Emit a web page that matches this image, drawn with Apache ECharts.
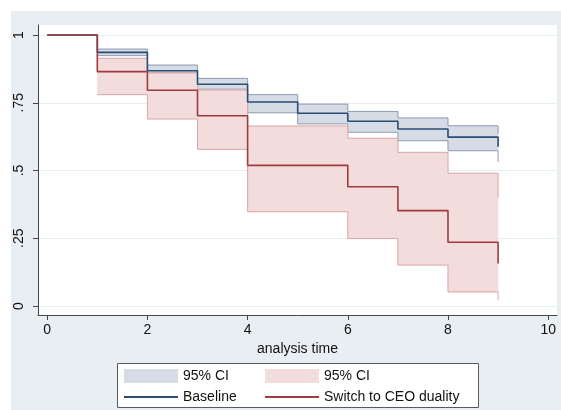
<!DOCTYPE html>
<html>
<head>
<meta charset="utf-8">
<script src="https://cdn.jsdelivr.net/npm/echarts@6/dist/echarts.min.js"></script>
<style>
  html, body { margin: 0; padding: 0; background: #ffffff; }
  #chart { width: 561px; height: 410px; }
</style>
</head>
<body>
<div id="chart"></div>
<script>
// ---- data ----
const times      = [0, 1, 2, 3, 4, 5, 6, 7, 8, 9];
const baseline   = [1, 0.936, 0.868, 0.818, 0.753, 0.711, 0.682, 0.653, 0.623, 0.588];
const baseLower  = [null, 0.924, 0.861, 0.800, 0.713, 0.672, 0.641, 0.610, 0.573, 0.531];
const baseUpper  = [null, 0.948, 0.889, 0.840, 0.780, 0.745, 0.718, 0.694, 0.665, 0.635];
const switchS    = [1, 0.865, 0.796, 0.702, 0.519, 0.519, 0.440, 0.352, 0.235, 0.157];
const switchLower= [null, 0.780, 0.690, 0.578, 0.348, 0.348, 0.249, 0.151, 0.052, 0.022];
const switchUpper= [null, 0.914, 0.860, 0.797, 0.664, 0.664, 0.619, 0.567, 0.490, 0.401];
const xTicks     = [0, 2, 4, 6, 8, 10];
const yTicks     = [0, 0.25, 0.5, 0.75, 1];
const yTickLabels= ['0', '.25', '.5', '.75', '1'];
const seriesNames= ['Baseline', 'Switch to CEO duality'];
const ciLabel    = '95% CI';
const xTitle     = 'analysis time';

// ---- helpers ----
function pairs(xs, ys) {
  const out = [];
  for (let i = 0; i < xs.length; i++) if (ys[i] !== null) out.push([xs[i], ys[i]]);
  return out;
}
// band intervals: [t_start, t_end, lower, upper]
function intervals(xs, lo, hi) {
  const out = [];
  for (let i = 0; i < xs.length - 1; i++) if (lo[i] !== null) out.push([xs[i], xs[i + 1], lo[i], hi[i]]);
  return out;
}

const FONT = '"Liberation Sans", Arial, Helvetica, sans-serif';
const NAVY = '#2a4d75';
const MAROON = '#a13a40';
const BLUE_FILL = '#d6dbe5';
const BLUE_EDGE = '#8f9db2';
const PINK_FILL = '#f2dcdc';
const PINK_EDGE = '#dca6a8';

const chart = echarts.init(document.getElementById('chart'), null, { renderer: 'canvas' });

function bandSeries(id, lo, hi, fill, edge, z) {
  return [
    {
      name: id, type: 'custom', z: z, silent: true,
      itemStyle: { color: fill },
      data: intervals(times, lo, hi),
      encode: { x: [0, 1], y: [2, 3] },
      renderItem: function (params, api) {
        const p0 = api.coord([api.value(0), api.value(3)]);
        const p1 = api.coord([api.value(1), api.value(2)]);
        return {
          type: 'rect',
          shape: { x: p0[0], y: p0[1], width: p1[0] - p0[0], height: p1[1] - p0[1] },
          style: { fill: fill, stroke: fill, lineWidth: 0.5 }
        };
      }
    },
    {
      name: id + 'lo', type: 'line', step: 'end', z: z,
      data: pairs(times, lo), symbol: 'none', silent: true,
      lineStyle: { color: edge, width: 1 }
    },
    {
      name: id + 'hi', type: 'line', step: 'end', z: z,
      data: pairs(times, hi), symbol: 'none', silent: true,
      lineStyle: { color: edge, width: 1 }
    }
  ];
}

const legendFormatter = function (name) {
  return (name === 'bCI' || name === 'sCI') ? ciLabel : name;
};

const option = {
  backgroundColor: '#ffffff',
  animation: false,
  graphic: [
    { type: 'rect', z: -10, silent: true, shape: { x: 11, y: 11, width: 550, height: 399 }, style: { fill: '#e8eef1' } },
    { type: 'rect', z: 1, silent: true, shape: { x: 117.5, y: 363.5, width: 361, height: 44 }, style: { fill: '#ffffff', stroke: '#5a5a5a', lineWidth: 1 } }
  ],
  grid: {
    left: 38, right: 4, top: 25, bottom: 95,
    show: true, backgroundColor: '#ffffff', borderWidth: 0
  },
  xAxis: {
    type: 'value', min: -0.184, max: 10.176,
    name: xTitle, nameLocation: 'middle', nameGap: 24,
    nameTextStyle: { fontFamily: FONT, fontSize: 14, color: '#111' },
    axisLine: { show: true, onZero: false, lineStyle: { color: '#444', width: 1 } },
    axisTick: { show: true, inside: false, length: 5, customValues: xTicks, lineStyle: { color: '#444' } },
    axisLabel: { customValues: xTicks, margin: 8, fontFamily: FONT, fontSize: 14, color: '#111' },
    splitLine: { show: false }
  },
  yAxis: {
    type: 'value', min: -0.0332, max: 1.0369,
    axisLine: { show: true, onZero: false, lineStyle: { color: '#444', width: 1 } },
    axisTick: { show: true, inside: false, length: 5, customValues: yTicks, lineStyle: { color: '#444' } },
    axisLabel: {
      customValues: yTicks, rotate: 90, margin: 12, fontFamily: FONT, fontSize: 14, color: '#111',
      formatter: function (v) { const i = yTicks.indexOf(v); return i >= 0 ? yTickLabels[i] : ''; }
    },
    splitLine: { show: true, lineStyle: { color: '#e7eef1', width: 1 } }
  },
  legend: [
    {
      left: 123, top: 369, orient: 'vertical', padding: 0, itemGap: 7,
      itemWidth: 54, itemHeight: 14, selectedMode: false,
      textStyle: { fontFamily: FONT, fontSize: 14, color: '#111' },
      formatter: legendFormatter,
      data: [
        { name: 'bCI', icon: 'rect', itemStyle: { color: BLUE_FILL, borderWidth: 0 } },
        { name: seriesNames[0], itemStyle: { opacity: 0 } }
      ],
      z: 5
    },
    {
      left: 264, top: 369, orient: 'vertical', padding: 0, itemGap: 7,
      itemWidth: 54, itemHeight: 14, selectedMode: false,
      textStyle: { fontFamily: FONT, fontSize: 14, color: '#111' },
      formatter: legendFormatter,
      data: [
        { name: 'sCI', icon: 'rect', itemStyle: { color: PINK_FILL, borderWidth: 0 } },
        { name: seriesNames[1], itemStyle: { opacity: 0 } }
      ],
      z: 5
    }
  ],
  series: [].concat(
    bandSeries('bCI', baseLower, baseUpper, BLUE_FILL, BLUE_EDGE, 1),
    bandSeries('sCI', switchLower, switchUpper, PINK_FILL, PINK_EDGE, 2),
    [
      {
        name: seriesNames[0], type: 'line', step: 'end', data: pairs(times, baseline),
        symbol: 'none', lineStyle: { color: NAVY, width: 1.6 }, itemStyle: { color: NAVY }, z: 3
      },
      {
        name: seriesNames[1], type: 'line', step: 'end', data: pairs(times, switchS),
        symbol: 'none', lineStyle: { color: MAROON, width: 1.6 }, itemStyle: { color: MAROON }, z: 4
      }
    ]
  )
};
chart.setOption(option);
</script>
</body>
</html>
